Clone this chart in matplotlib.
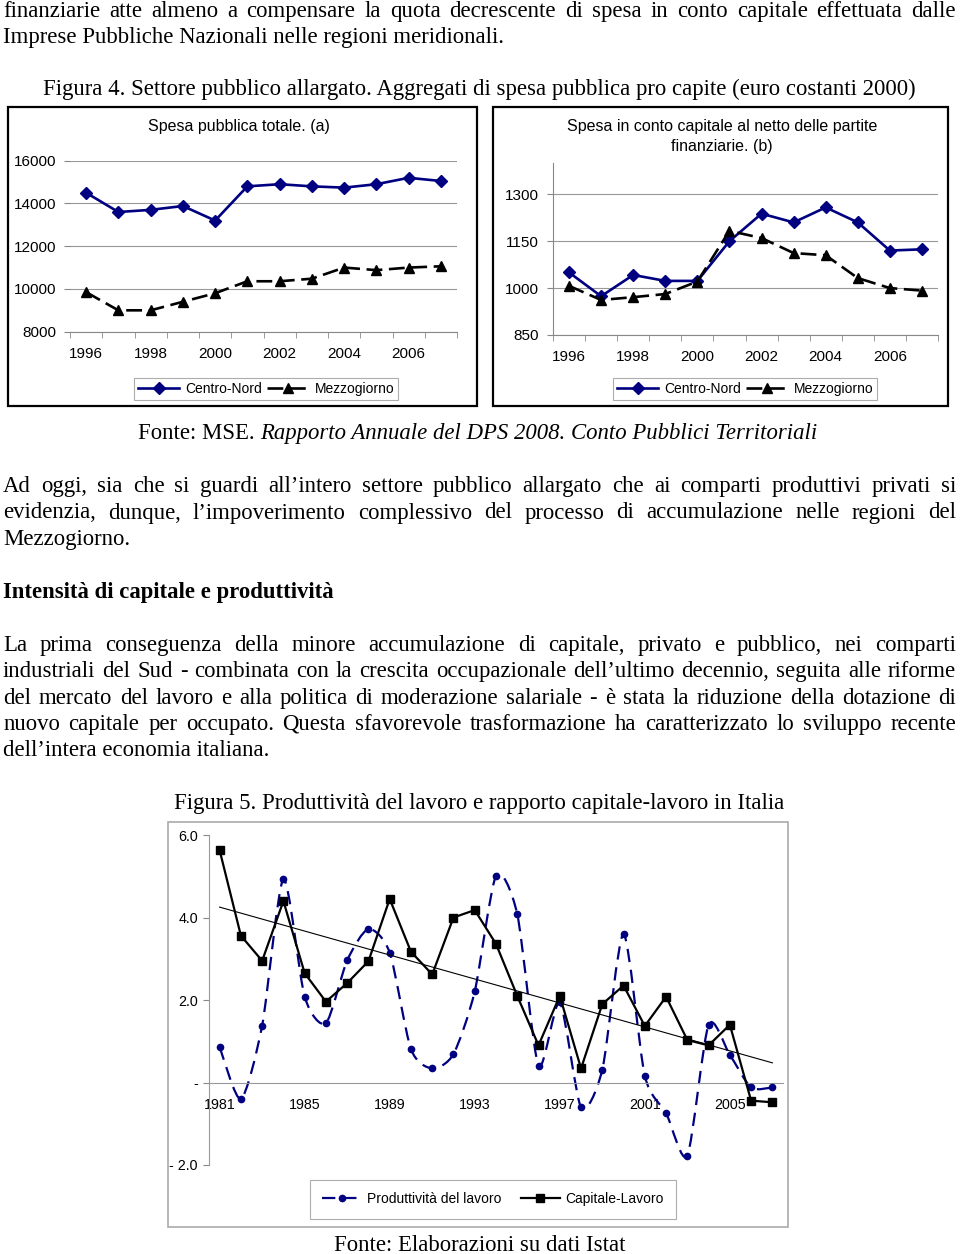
import numpy as np
import matplotlib
matplotlib.use("Agg")
import matplotlib.pyplot as plt
from matplotlib.patches import Rectangle, PathPatch
from matplotlib.path import Path
from matplotlib.lines import Line2D
from matplotlib.font_manager import FontProperties

# --- Figura 4: spesa pubblica pro capite (euro costanti 2000) ---
years_a = list(range(1996, 2008))
cn_totale = [14500, 13600, 13700, 13880, 13200, 14800, 14900, 14800, 14740, 14900, 15200, 15050]
mz_totale = [9850, 9000, 9000, 9400, 9800, 10360, 10360, 10480, 11000, 10880, 11000, 11060]
cn_capitale = [1050, 974, 1042, 1023, 1023, 1150, 1238, 1210, 1258, 1210, 1120, 1124]
mz_capitale = [1007, 962, 971, 981, 1021, 1183, 1160, 1112, 1105, 1032, 1000, 992]
yticks_totale = [8000, 10000, 12000, 14000, 16000]
yticks_capitale = [850, 1000, 1150, 1300]

# --- Figura 5: produttivita' e capitale-lavoro ---
years_b = list(range(1981, 2008))
produttivita = [0.86, -0.40, 1.38, 4.93, 2.08, 1.44, 2.96, 3.72, 3.15, 0.81,
                0.34, 0.69, 2.21, 5.01, 4.08, 0.41, 1.94, -0.60, 0.31, 3.60,
                0.16, -0.74, -1.77, 1.40, 0.67, -0.12, -0.12]
capitale_lavoro = [5.63, 3.56, 2.95, 4.40, 2.65, 1.96, 2.41, 2.94, 4.45, 3.17,
                   2.62, 4.00, 4.18, 3.36, 2.10, 0.90, 2.10, 0.34, 1.90, 2.35,
                   1.37, 2.08, 1.03, 0.90, 1.40, -0.44, -0.48]
yticks_b = [-2, 0, 2, 4, 6]
ylabels_b = ["- 2.0", "-", "2.0", "4.0", "6.0"]

# --- testo della pagina ---
riga_apertura = "finanziarie atte almeno a compensare la quota decrescente di spesa in conto capitale effettuata dalle"
riga_chiusura = "Imprese Pubbliche Nazionali nelle regioni meridionali."
titolo_fig4 = "Figura 4. Settore pubblico allargato. Aggregati di spesa pubblica pro capite (euro costanti 2000)"
fonte_fig4 = ("Fonte: MSE. ", "Rapporto Annuale del DPS 2008. Conto Pubblici Territoriali")
paragrafo_1 = [
    "Ad oggi, sia che si guardi all’intero settore pubblico allargato che ai comparti produttivi privati si",
    "evidenzia, dunque, l’impoverimento complessivo del processo di accumulazione nelle regioni del",
    "Mezzogiorno.",
]
titoletto = "Intensità di capitale e produttività"
paragrafo_2 = [
    "La prima conseguenza della minore accumulazione di capitale, privato e pubblico, nei comparti",
    "industriali del Sud - combinata con la crescita occupazionale dell’ultimo decennio, seguita alle riforme",
    "del mercato del lavoro e alla politica di moderazione salariale - è stata la riduzione della dotazione di",
    "nuovo capitale per occupato. Questa sfavorevole trasformazione ha caratterizzato lo sviluppo recente",
    "dell’intera economia italiana.",
]
titolo_fig5 = "Figura 5. Produttività del lavoro e rapporto capitale-lavoro in Italia"
fonte_fig5 = "Fonte: Elaborazioni su dati Istat"

W, H = 960, 1254
SERIF = "Liberation Serif"
SANS = "Liberation Sans"
BODY = 16.4
NAVY = "#000080"

plt.rcParams["font.family"] = SANS
fig = plt.figure(figsize=(W / 100, H / 100), dpi=100)
fig.patch.set_facecolor("white")
renderer = fig.canvas.get_renderer()


def fx(px):
    return px / W


def fy(py):
    return 1 - py / H


def axes_px(x0, y0, x1, y1):
    return fig.add_axes([fx(x0), fy(y1), fx(x1) - fx(x0), fy(y0) - fy(y1)])


def box_px(x0, y0, x1, y1, color, lw):
    fig.add_artist(Rectangle((fx(x0), fy(y1)), fx(x1) - fx(x0), fy(y0) - fy(y1),
                             transform=fig.transFigure, fill=False,
                             edgecolor=color, linewidth=lw))


def text_w(s, prop):
    w, _, _ = renderer.get_text_width_height_descent(s, prop, ismath=False)
    return w


def riga(s, base, x=3, weight="normal", style="normal", ha="left"):
    prop = FontProperties(family=SERIF, size=BODY, weight=weight, style=style)
    return fig.text(fx(x), fy(base), s, fontproperties=prop, ha=ha, va="baseline")


def giustificata(s, base, x0=3, x1=956):
    prop = FontProperties(family=SERIF, size=BODY)
    words = s.split(" ")
    widths = [text_w(w, prop) for w in words]
    gap = (x1 - x0 - sum(widths)) / (len(words) - 1)
    x = x0
    for w, ww in zip(words, widths):
        fig.text(fx(x), fy(base), w, fontproperties=prop, ha="left", va="baseline")
        x += ww + gap


# ---------------- testo ----------------
giustificata(riga_apertura, 17)
riga(riga_chiusura, 43)
riga(titolo_fig4, 95, x=479, ha="center")

prop_n = FontProperties(family=SERIF, size=BODY)
w_fonte = text_w(fonte_fig4[0], prop_n)
w_tot = w_fonte + text_w(fonte_fig4[1], FontProperties(family=SERIF, size=BODY, style="italic"))
x_fonte = 478 - w_tot / 2
riga(fonte_fig4[0], 439, x=x_fonte)
riga(fonte_fig4[1], 439, x=x_fonte + w_fonte, style="italic")

for i, s in enumerate(paragrafo_1):
    base = 492 + i * 26.5
    if i < len(paragrafo_1) - 1:
        giustificata(s, base)
    else:
        riga(s, base)

riga(titoletto, 598, weight="bold")

for i, s in enumerate(paragrafo_2):
    base = 651 + i * 26.3
    if i < len(paragrafo_2) - 1:
        giustificata(s, base)
    else:
        riga(s, base)

riga(titolo_fig5, 809, x=479, ha="center")
riga(fonte_fig5, 1251, x=480, ha="center")

# ---------------- Figura 4 ----------------
box_px(8, 107, 477, 406, "black", 1.6)
box_px(493, 107, 948, 406, "black", 1.6)


def pannello_spesa(ax, cn, mz, ylim, yticks, left_spine):
    x = np.arange(len(years_a))
    ax.plot(x, cn, color=NAVY, lw=1.9, marker="D", ms=6, label="Centro-Nord", zorder=3)
    ax.plot(x, mz, color="black", lw=1.9, dashes=(6, 2.5), marker="^", ms=7,
            label="Mezzogiorno", zorder=3)
    ax.set_xlim(-0.5, len(x) - 0.5)
    ax.set_ylim(*ylim)
    ax.set_yticks(yticks)
    ax.set_xticks(x[::2])
    ax.set_xticklabels([str(y) for y in years_a[::2]])
    ax.set_xticks(np.arange(-0.5, len(x)), minor=True)
    ax.tick_params(axis="x", which="major", length=0, pad=11, labelsize=11)
    ax.tick_params(axis="x", which="minor", length=4, color="#888888")
    ax.tick_params(axis="y", length=4, color="#888888", pad=6, labelsize=11)
    ax.grid(axis="y", color="#999999", lw=0.8)
    ax.set_axisbelow(True)
    for side in ["top", "right"]:
        ax.spines[side].set_visible(False)
    ax.spines["left"].set_visible(left_spine)
    ax.spines["left"].set_color("#888888")
    ax.spines["bottom"].set_color("#888888")
    ax.set_facecolor("none")
    return ax


ax1 = axes_px(70, 160.7, 457, 331.7)
pannello_spesa(ax1, cn_totale, mz_totale, (8000, 16000), yticks_totale, False)
fig.text(fx(239), fy(126), "Spesa pubblica totale. (a)", ha="center", va="center", fontsize=11.5)
ax1.legend(loc="center", bbox_to_anchor=(fx(266), fy(389)), bbox_transform=fig.transFigure,
           ncol=2, fontsize=10, frameon=True, fancybox=False, edgecolor="#999999",
           handlelength=3.0, handletextpad=0.4, columnspacing=0.4, borderpad=0.3,
           borderaxespad=0).get_frame().set_linewidth(0.8)

ax2 = axes_px(553, 163, 938, 335)
pannello_spesa(ax2, cn_capitale, mz_capitale, (850, 1400), yticks_capitale, True)
fig.text(fx(722), fy(126), "Spesa in conto capitale al netto delle partite",
         ha="center", va="center", fontsize=11.5)
fig.text(fx(722), fy(147), "finanziarie. (b)", ha="center", va="center", fontsize=11.5)
ax2.legend(loc="center", bbox_to_anchor=(fx(745), fy(389)), bbox_transform=fig.transFigure,
           ncol=2, fontsize=10, frameon=True, fancybox=False, edgecolor="#999999",
           handlelength=3.0, handletextpad=0.4, columnspacing=0.4, borderpad=0.3,
           borderaxespad=0).get_frame().set_linewidth(0.8)

# ---------------- Figura 5 ----------------
box_px(168, 822, 788, 1227, "#aaaaaa", 1.2)
ax3 = axes_px(209, 835, 783, 1165)
xb = np.arange(len(years_b))


def linea_smussata(xs, ys, k=8):
    pts = np.column_stack([xs, ys]).astype(float)
    ext = np.vstack([pts[0], pts, pts[-1]])
    verts, codes = [pts[0]], [Path.MOVETO]
    for i in range(len(pts) - 1):
        p0, p1, p2, p3 = ext[i], ext[i + 1], ext[i + 2], ext[i + 3]
        verts += [p1 + (p2 - p0) / k, p2 - (p3 - p1) / k, p2]
        codes += [Path.CURVE4] * 3
    return Path(verts, codes)


ax3.add_patch(PathPatch(linea_smussata(xb, produttivita), fill=False, edgecolor=NAVY,
                        lw=1.6, linestyle=(0, (6, 3.5)), zorder=2))
ax3.plot(xb, produttivita, ls="none", marker="o", ms=4.5, color=NAVY, zorder=3)
ax3.plot(xb, capitale_lavoro, color="black", lw=1.6, marker="s", ms=5.5, zorder=4)
slope, icpt = np.polyfit(xb, capitale_lavoro, 1)
ax3.plot(xb, slope * xb + icpt, color="black", lw=0.8, zorder=3)

ax3.set_xlim(-0.5, len(xb) - 0.5)
ax3.set_ylim(-2, 6)
ax3.set_yticks(yticks_b)
ax3.set_yticklabels(ylabels_b)
ax3.set_xticks(xb[::4])
ax3.set_xticklabels([str(y) for y in years_b[::4]])
ax3.tick_params(axis="x", length=0, pad=11, labelsize=10.3)
ax3.tick_params(axis="y", length=4, color="#888888", pad=4, labelsize=10.3)
for side in ["top", "right"]:
    ax3.spines[side].set_visible(False)
ax3.spines["bottom"].set_position(("data", 0))
ax3.spines["bottom"].set_color("#999999")
ax3.spines["left"].set_color("#999999")
ax3.set_facecolor("none")

handles = [
    Line2D([], [], color=NAVY, lw=1.6, dashes=(6, 3.5), marker="o", ms=4.5),
    Line2D([], [], color="black", lw=1.6, marker="s", ms=5.5),
]
ax3.legend(handles, ["Produttività del lavoro", "Capitale-Lavoro"], loc="center",
           bbox_to_anchor=(fx(493), fy(1199)), bbox_transform=fig.transFigure,
           ncol=2, fontsize=10, frameon=True, fancybox=False, edgecolor="#999999",
           handlelength=2.8, handletextpad=0.4, columnspacing=1.4, borderpad=0.9,
           borderaxespad=0).get_frame().set_linewidth(0.8)

fig.savefig("out.png", dpi=100, facecolor="white")
